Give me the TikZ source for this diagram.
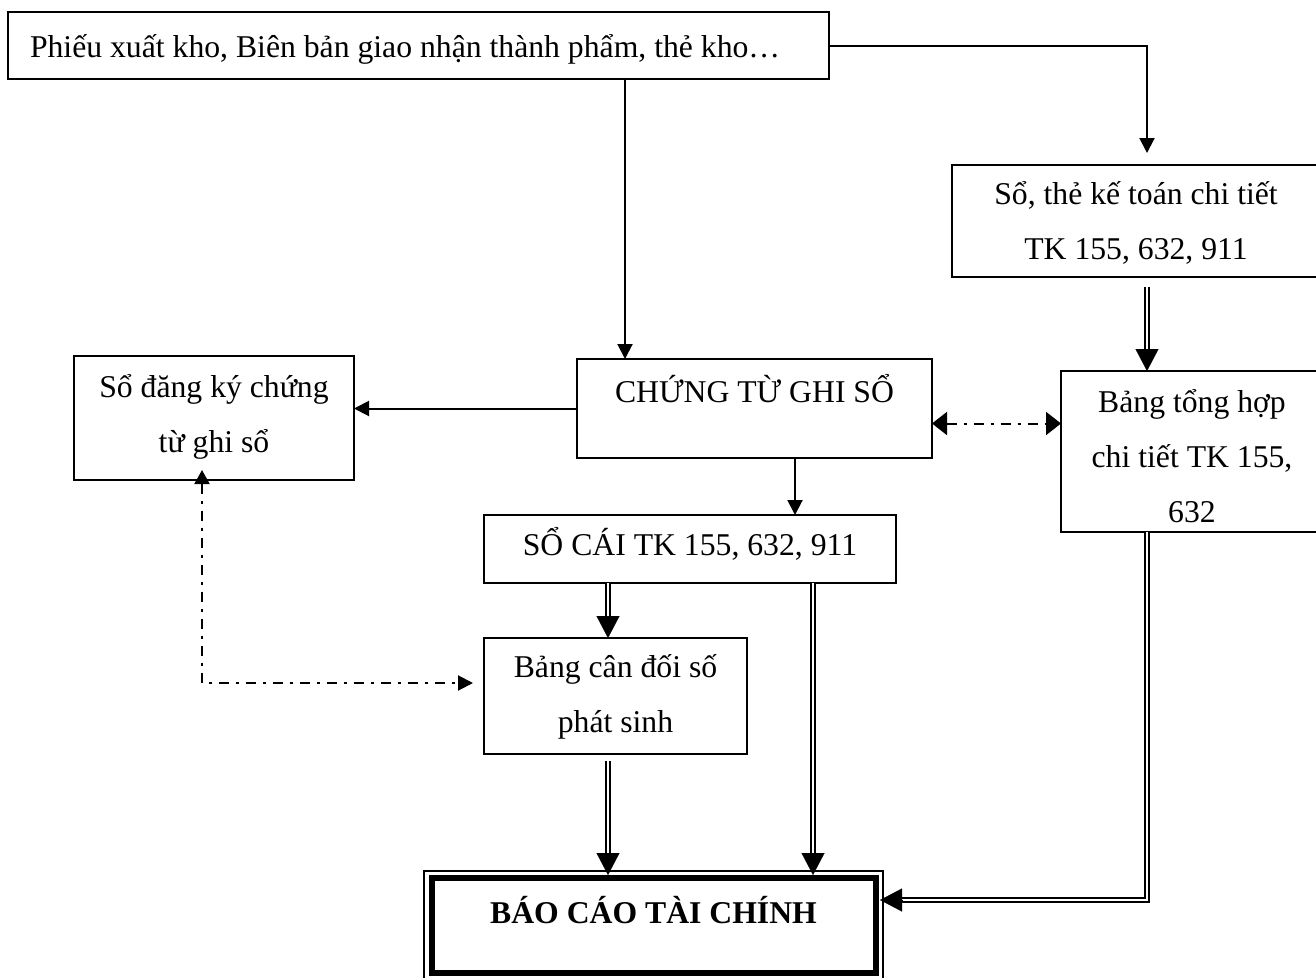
\documentclass[tikz,border=0pt]{standalone}
\usepackage{fontspec}
\setmainfont{Liberation Serif}
\usetikzlibrary{arrows.meta,calc}
% centred lines stacked on the baseline of the first one
\newcommand\stk[1]{\vtop{\halign{\hfil##\hfil\cr#1\crcr}}}
\begin{document}
\begin{tikzpicture}[x=1pt,y=-1pt,
  txt/.style={font=\fontsize{31.7pt}{55pt}\selectfont},
  box/.style={draw, line width=2pt, inner sep=0pt, outer sep=0pt, anchor=north west, txt},
  arr/.style={line width=2pt, -{Triangle[length=15pt,width=15pt]}},
  dline/.style={double, line width=1.8pt, double distance=2.8pt},
  dtip/.style={line width=0.1pt, -{Triangle[length=22pt,width=23pt]}},
  dd/.style={line width=2pt, dash pattern=on 10pt off 7pt on 3pt off 7pt},
]
\useasboundingbox (0,0) rectangle (1316,977);
\fill[white] (0,0) rectangle (1316,977);
\clip (0,0) rectangle (1316,977);

% boxes
\node[box, minimum width=821pt, text width=777pt, align=flush left, inner xsep=22pt,
      text height=45pt, text depth=22pt] (src) at (8,12)
  {Phiếu xuất kho, Biên bản giao nhận thành phẩm, thẻ kho…};
\node[box, minimum width=368pt, text height=39pt, text depth=73pt] (detail) at (952,165)
  {\stk{Sổ, thẻ kế toán chi tiết\cr TK 155, 632, 911}};
\node[box, minimum width=280pt, text height=41pt, text depth=83pt] (reg) at (74,356)
  {\stk{Sổ đăng ký chứng\cr từ ghi sổ}};
\node[box, minimum width=355pt, text height=43pt, text depth=56pt] (ctgs) at (577,359)
  {CHỨNG TỪ GHI SỔ};
\node[box, minimum width=262pt, text height=41pt, text depth=120pt] (sum) at (1061,371)
  {\stk{Bảng tổng hợp\cr chi tiết TK 155,\cr 632}};
\node[box, minimum width=412pt, text height=40pt, text depth=28pt] (gl) at (484,515)
  {SỔ CÁI TK 155, 632, 911};
\node[box, minimum width=263pt, text height=39pt, text depth=77pt] (trial) at (484,638)
  {\stk{Bảng cân đối số\cr phát sinh}};
\node[box, line width=1.8pt, minimum width=459pt, text height=52pt, text depth=58pt,
      font=\fontsize{31.7pt}{55pt}\selectfont\bfseries] (fin) at (424,871)
  {BÁO CÁO TÀI CHÍNH};
\draw[line width=6pt] ($(fin.north west)+(8,7)$) rectangle ($(fin.south east)+(-7,-8)$);

% source documents -> voucher
\coordinate (ctgsIn) at ($(ctgs.north west)+(48,0)$);
\draw[arr] (src.south -| ctgsIn) -- (ctgsIn);

% source documents -> detail ledgers
\coordinate (detIn) at ($(detail.north west)+(195,-12)$);
\draw[arr] (src.east) -| (detIn);

% detail ledgers => summary table
\coordinate (sumIn) at (sum.north -| detIn);
\draw[dline] ($(detail.south -| detIn)+(0,10)$) -- ($(sumIn)+(0,-12)$);
\draw[dtip] ($(sumIn)+(0,-22)$) -- (sumIn);

% voucher -> register
\draw[arr] (ctgs.west) -- (ctgs.west -| reg.east);

% voucher <-> summary table (cross-check)
\coordinate (cs) at ($(ctgs.east)+(0,15)$);
\draw[dd, {Triangle[length=15pt,width=23pt]}-{Triangle[length=15pt,width=23pt]}]
  (cs) -- (cs -| sum.west);

% voucher -> general ledger
\coordinate (glIn) at ($(ctgs.south west)+(218,0)$);
\draw[arr] (glIn) -- (glIn |- gl.north);

% general ledger => trial balance
\coordinate (a1) at ($(gl.south west)+(124,0)$);
\draw[dline] (a1) -- ($(a1 |- trial.north)+(0,-12)$);
\draw[dtip] ($(a1 |- trial.north)+(0,-22)$) -- (a1 |- trial.north);

% general ledger => financial report
\coordinate (a2) at ($(gl.south west)+(329,0)$);
\coordinate (finTop2) at ($(a2 |- fin.north)+(0,4)$);
\draw[dline] (a2) -- ($(finTop2)+(0,-12)$);
\draw[dtip] ($(finTop2)+(0,-22)$) -- (finTop2);

% trial balance => financial report
\coordinate (finTop1) at ($(a1 |- fin.north)+(0,4)$);
\draw[dline] ($(a1 |- trial.south)+(0,7)$) -- ($(finTop1)+(0,-12)$);
\draw[dtip] ($(finTop1)+(0,-22)$) -- (finTop1);

% summary table => financial report
\coordinate (finR) at ($(fin.north east)+(-3,29)$);
\draw[dline] (sum.south -| detIn) |- ($(finR)+(12,0)$);
\draw[dtip] ($(finR)+(22,0)$) -- (finR);

% register <-> trial balance (cross-check)
\coordinate (rd) at ($(reg.south west)+(128,-10)$);
\coordinate (tl) at ($(trial.west)+(-11,-13)$);
\draw[dd, {Triangle[length=14pt,width=15pt]}-{Triangle[length=15pt,width=15pt]}]
  (rd) |- (tl);
\end{tikzpicture}
\end{document}
